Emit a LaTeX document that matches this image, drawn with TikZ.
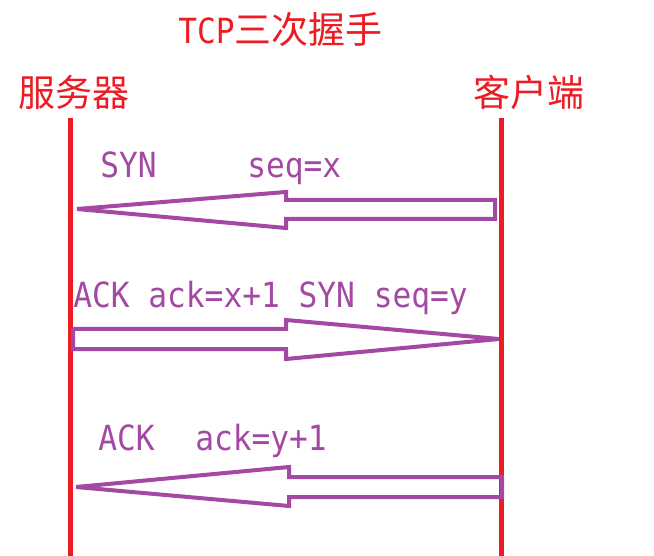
\documentclass[tikz,border=0pt]{standalone}
\usepackage{fontspec}
\usepackage{tikz}
\usepackage{xcolor}
\newfontfamily\cjkfont{Noto Sans CJK SC}
\newfontfamily\monofont[FakeStretch=0.9]{DejaVu Sans Mono}
\definecolor{paintred}{HTML}{ED1C24}
\definecolor{paintpurple}{HTML}{A349A4}

\begin{document}
\begin{tikzpicture}[x=0.75pt,y=-0.75pt,
  lifeline/.style={paintred,line width=3.75pt},
  blockarrow/.style={paintpurple,line width=3pt,line join=miter},
  redlabel/.style={text=paintred,inner sep=0pt,anchor=base west,font=\cjkfont\fontsize{27.75}{30}\selectfont},
  pktlabel/.style={text=paintpurple,inner sep=0pt,anchor=base west,font=\monofont\fontsize{26}{30}\selectfont}]
\useasboundingbox (0,0) rectangle (654,556);
\node[redlabel] (title) at (178,44) {{\monofont\fontsize{26}{30}\selectfont TCP}三次握手};
\node[redlabel] (server) at (18,107) {服务器};
\node[redlabel] (client) at (473,107) {客户端};
\coordinate (srvtop) at (70,118);
\coordinate (srvend) at (70,556);
\coordinate (clitop) at (501,118);
\coordinate (cliend) at (501,556);
\draw[lifeline] (srvtop) -- (srvend);
\draw[lifeline] (clitop) -- (cliend);
\node[pktlabel] (syn1) at (100,178) {SYN};
\node[pktlabel] (seq1) at (247,178) {seq=x};
\draw[blockarrow] (77,209) -- (286,192) -- (286,200) -- (495,200) -- (495,219) -- (286,219) -- (286,228) -- cycle;
\node[pktlabel] (synack) at (73,307) {ACK ack=x+1 SYN seq=y};
\draw[blockarrow] (499,339) -- (286,320) -- (286,329) -- (73,329) -- (73,349) -- (286,349) -- (286,359) -- cycle;
\node[pktlabel] (ack3) at (98,450) {ACK};
\node[pktlabel] (ack3num) at (195,450) {ack=y+1};
\draw[blockarrow] (76,487) -- (289,467) -- (289,477) -- (502,477) -- (502,497) -- (289,497) -- (289,506) -- cycle;
\end{tikzpicture}
\end{document}
